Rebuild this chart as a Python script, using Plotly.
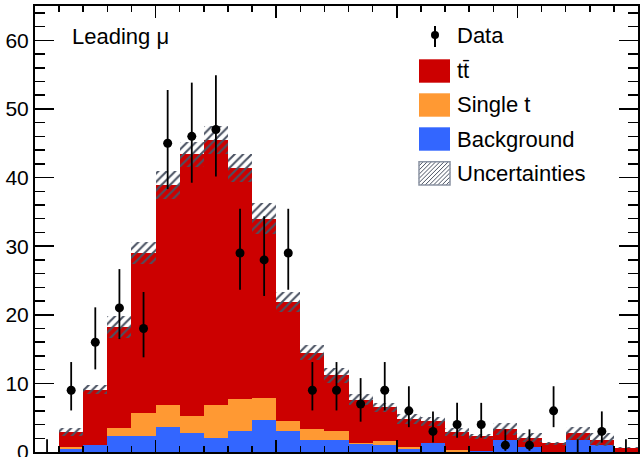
import math
import plotly.graph_objects as go

# ---------------- data ----------------
bin_edges = [0, 10, 20, 30, 40, 50, 60, 70, 80, 90, 100, 110, 120, 130, 140,
             150, 160, 170, 180, 190, 200, 210, 220, 230, 240, 250]
background = [0, 0.47, 0.95, 2.26, 2.26, 3.7, 2.8, 2.0, 3.1, 4.6, 3.0, 1.8, 1.8,
              1.15, 1.05, 0.5, 1.25, 0.05, 0.2, 1.75, 0.7, 0, 1.8, 1.05, 0]
single_t = [0, 0.33, 0.05, 1.24, 3.44, 3.1, 2.4, 4.8, 4.6, 3.3, 1.45, 1.5, 1.2,
            0.1, 0.5, 0.3, 0.05, 0.25, 0, 0, 0, 0, 0, 0, 0]
ttbar = [0, 2.1, 8.1, 14.7, 23.3, 32.1, 38.2, 38.7, 33.7, 26.1, 17.45, 11.2, 8.2,
         6.35, 4.95, 4.05, 3.2, 2.6, 2.06, 1.65, 1.37, 1.3, 0.9, 0.75, 0.65]
uncert = [0, 0.6, 0.65, 1.6, 1.55, 2.0, 1.85, 2.05, 2.1, 2.25, 1.45, 1.05, 1.1,
          0.8, 0.65, 0.7, 0.65, 0.55, 0.42, 0.9, 0.66, 0.22, 0.9, 0.92, 0.1]
data = [0, 9, 16, 21, 18, 45, 46, 47, 29, 28, 29, 9, 9, 7, 9, 6, 3, 4, 4, 1, 1,
        6, 0, 3, 0]

# ---------------- colours ----------------
C_TT = "#CC0000"
C_ST = "#FF9933"
C_BG = "#3366FF"
C_HATCH = "#4a5262"

FONT = "Liberation Sans, Arial, Helvetica, sans-serif"

centers = [(bin_edges[i] + bin_edges[i + 1]) / 2 for i in range(len(bin_edges) - 1)]
widths = [bin_edges[i + 1] - bin_edges[i] for i in range(len(bin_edges) - 1)]

base_st = list(background)
base_tt = [b + s for b, s in zip(background, single_t)]
total = [b + s + t for b, s, t in zip(background, single_t, ttbar)]
unc_base = [t - u for t, u in zip(total, uncert)]
unc_height = [2 * u for u in uncert]


# Garwood (Poisson) intervals for the data error bars
def pois_cdf(k, mu):
    term = math.exp(-mu)
    s = term
    for i in range(1, k + 1):
        term *= mu / i
        s += term
    return s


def garwood(n, q=0.158655):
    lo, hi = float(n), float(n) + 60.0
    for _ in range(200):
        mid = (lo + hi) / 2
        if pois_cdf(n, mid) > q:
            lo = mid
        else:
            hi = mid
    up = (lo + hi) / 2 - n
    if n == 0:
        return up, 0.0
    lo, hi = 0.0, float(n)
    for _ in range(200):
        mid = (lo + hi) / 2
        if 1 - pois_cdf(n - 1, mid) < q:
            lo = mid
        else:
            hi = mid
    return up, n - (lo + hi) / 2


errs = [garwood(n) for n in data]

fig = go.Figure()

fig.add_trace(go.Bar(x=centers, y=background, base=[0] * len(background), width=widths,
                     marker=dict(color=C_BG, line=dict(width=0)), name="Background",
                     showlegend=False))
fig.add_trace(go.Bar(x=centers, y=single_t, base=base_st, width=widths,
                     marker=dict(color=C_ST, line=dict(width=0)), name="Single t",
                     showlegend=False))
fig.add_trace(go.Bar(x=centers, y=ttbar, base=base_tt, width=widths,
                     marker=dict(color=C_TT, line=dict(width=0)), name="tt",
                     showlegend=False))
fig.add_trace(go.Bar(x=centers, y=unc_height, base=unc_base, width=widths,
                     marker=dict(color=C_HATCH, line=dict(width=0),
                                 pattern=dict(shape="/", size=6, solidity=0.35,
                                              fgcolor=C_HATCH,
                                              bgcolor="rgba(0,0,0,0)",
                                              fillmode="replace")),
                     name="Uncertainties", showlegend=False))

# data points (non-zero)
xd = [c for c, n in zip(centers, data) if n > 0]
yd = [n for n in data if n > 0]
eu = [e[0] for e, n in zip(errs, data) if n > 0]
ed = [e[1] for e, n in zip(errs, data) if n > 0]
fig.add_trace(go.Scatter(x=xd, y=yd, mode="markers",
                         marker=dict(color="black", size=9),
                         error_y=dict(type="data", symmetric=False, array=eu,
                                      arrayminus=ed, width=0, thickness=1.8,
                                      color="black"),
                         showlegend=False, cliponaxis=False))
# zero-count bins: error bar only
xz = [c for c, n in zip(centers, data) if n == 0]
yz = [0 for n in data if n == 0]
ez = [e[0] for e, n in zip(errs, data) if n == 0]
fig.add_trace(go.Scatter(x=xz, y=yz, mode="markers",
                         marker=dict(color="rgba(0,0,0,0)", size=1),
                         error_y=dict(type="data", symmetric=False, array=ez,
                                      arrayminus=[0] * len(ez), width=0,
                                      thickness=1.8, color="black"),
                         showlegend=False))

# ---------------- layout ----------------
L, R, T, B = 35, 2, 6, 5
W, H = 640, 457
PW, PH = W - L - R, H - T - B


def px(x):
    return (x - L) / PW


def py(y):
    return (H - B - y) / PH


shapes = []
annotations = []

# custom legend
legend_boxes = [
    (59.3, 82.7, C_TT, "tt\u0304"),
    (93.3, 116.7, C_ST, "Single t"),
    (127.3, 150.7, C_BG, "Background"),
]
bx0, bx1 = 419, 450
for y0, y1, col, label in legend_boxes:
    shapes.append(dict(type="rect", xref="paper", yref="paper",
                       x0=px(bx0), x1=px(bx1), y0=py(y1), y1=py(y0),
                       fillcolor=col, line=dict(width=0)))
    annotations.append(dict(xref="paper", yref="paper", x=px(455), y=py((y0 + y1) / 2),
                            text=label, showarrow=False, xanchor="left",
                            yanchor="middle", font=dict(size=22, color="black")))

# uncertainties legend box with hatching
uy0, uy1 = 161.7, 185.0
c = bx0 + uy0
while c < bx1 + uy1:
    xa = max(bx0, c - uy1)
    xb = min(bx1, c - uy0)
    if xb > xa:
        shapes.append(dict(type="line", xref="paper", yref="paper",
                           x0=px(xa), y0=py(c - xa), x1=px(xb), y1=py(c - xb),
                           line=dict(color=C_HATCH, width=1)))
    c += 4.2
shapes.append(dict(type="rect", xref="paper", yref="paper",
                   x0=px(bx0), x1=px(bx1), y0=py(uy1), y1=py(uy0),
                   fillcolor="rgba(0,0,0,0)", line=dict(color="#8a93a3", width=1.5)))
annotations.append(dict(xref="paper", yref="paper", x=px(455), y=py((uy0 + uy1) / 2),
                        text="Uncertainties", showarrow=False, xanchor="left",
                        yanchor="middle", font=dict(size=22, color="black")))

# data legend symbol
shapes.append(dict(type="line", xref="paper", yref="paper",
                   x0=px(435), x1=px(435), y0=py(26), y1=py(47),
                   line=dict(color="black", width=2)))
shapes.append(dict(type="circle", xref="paper", yref="paper",
                   x0=px(431), x1=px(439), y0=py(39), y1=py(31),
                   fillcolor="black", line=dict(color="black", width=0)))
annotations.append(dict(xref="paper", yref="paper", x=px(455), y=py(36),
                        text="Data", showarrow=False, xanchor="left",
                        yanchor="middle", font=dict(size=22, color="black")))

annotations.append(dict(xref="paper", yref="paper", x=px(70), y=py(37),
                        text="Leading \u03bc", showarrow=False, xanchor="left",
                        yanchor="middle", font=dict(size=22, color="black")))

fig.update_layout(
    width=W, height=H,
    margin=dict(l=L, r=R, t=T, b=B, pad=0, autoexpand=False),
    paper_bgcolor="white", plot_bgcolor="white",
    font=dict(family=FONT, color="black"),
    barmode="overlay", bargap=0,
    shapes=shapes, annotations=annotations,
    showlegend=False,
    xaxis=dict(range=[bin_edges[0], bin_edges[-1]], showgrid=False, zeroline=False,
               automargin=False,
               showline=True, linecolor="black", linewidth=2, mirror="allticks",
               ticks="inside", ticklen=12, tickwidth=1.5, tickcolor="black",
               tick0=0, dtick=50, showticklabels=False,
               minor=dict(ticks="inside", ticklen=6, dtick=10, tickwidth=1.5,
                          tickcolor="black", showgrid=False)),
    yaxis=dict(range=[0, 65], showgrid=False, zeroline=False,
               automargin=False, ticklabeloverflow="allow",
               showline=True, linecolor="black", linewidth=2, mirror="allticks",
               ticks="inside", ticklen=19, tickwidth=1.5, tickcolor="black",
               tick0=0, dtick=10, tickfont=dict(size=21, color="black"),
               minor=dict(ticks="inside", ticklen=10, dtick=2, tickwidth=1.5,
                          tickcolor="black", showgrid=False)),
)

fig.write_html("out.html",
               config={"displayModeBar": False, "staticPlot": True},
               post_script="document.body.style.margin='0';"
                           "document.body.style.padding='0';"
                           "document.body.style.overflow='hidden';")
